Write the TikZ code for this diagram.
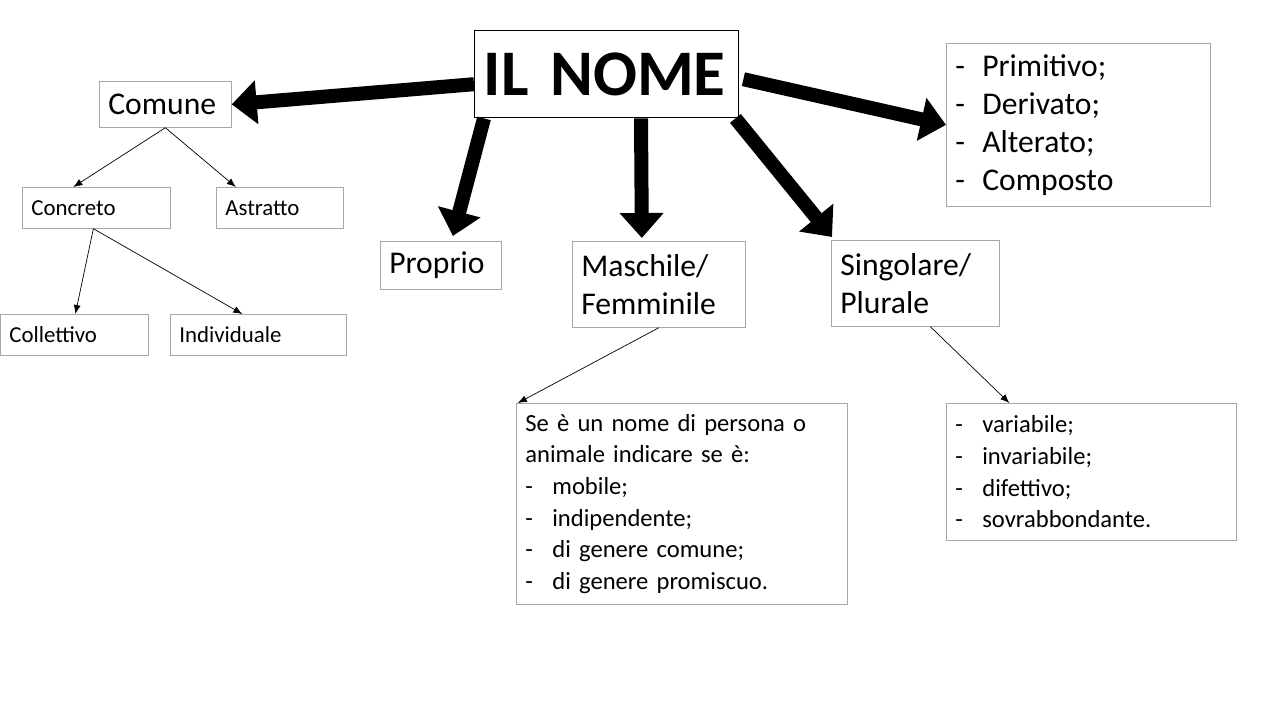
\documentclass[tikz,border=0pt]{standalone}
\usepackage{fontspec}
\setmainfont{Carlito}
\usetikzlibrary{arrows.meta, positioning}
\newcommand{\itm}{\makebox[0.54cm][l]{-}}
\begin{document}
\begin{tikzpicture}[
      box/.style={draw=gray!70, rectangle, anchor=north west, inner xsep=0.18cm, inner ysep=0pt, align=left},
      big/.style={font=\fontsize{18}{21.6}\selectfont},
      small/.style={font=\fontsize{13}{16}\selectfont},
      list/.style={font=\fontsize{14}{18}\selectfont},
      fatarrow/.style={line width=0.28cm, -{Triangle[width=0.85cm,length=0.5cm]}},
      thinarrow/.style={thin, -{Latex[length=1.8mm,width=1.4mm]}}
  ]
      \useasboundingbox (0,0) rectangle (25.6,-14.4);
      % centre
      \node[box, draw=black, thick, text width=4.92cm, minimum height=1.74cm, font=\fontsize{37}{40}\bfseries] (nome) at (9.48,-0.6) {IL NOME};

      % left branch
      \node[box, big, text width=2.28cm, minimum height=0.92cm] (comune) at (1.98,-1.62) {Comune};
      \node[box, small, text width=2.6cm, minimum height=0.82cm] (concreto) at (0.44,-3.74) {Concreto};
      \node[box, small, text width=2.18cm, minimum height=0.82cm] (astratto) at (4.32,-3.74) {Astratto};
      \node[box, small, text width=2.6cm, minimum height=0.82cm] (collettivo) at (0,-6.28) {Collettivo};
      \node[box, small, text width=3.16cm, minimum height=0.82cm] (individuale) at (3.4,-6.28) {Individuale};

      % middle row
      \node[box, big, text width=2.06cm, minimum height=0.96cm] (proprio) at (7.6,-4.82) {Proprio};
      \node[box, big, text width=3.1cm, minimum height=1.72cm] (maschile) at (11.44,-4.82) {Maschile/\\Femminile};
      \node[box, big, text width=3.0cm, minimum height=1.72cm] (singolare) at (16.62,-4.8) {Singolare/\\Plurale};
      \node[box, font=\fontsize{18}{21.6}\selectfont, text width=4.92cm, minimum height=3.26cm] (primitivo) at (18.92,-0.86)
          {\itm Primitivo;\\ \itm Derivato;\\ \itm Alterato;\\ \itm Composto};

      % lower boxes
      \node[box, list, text width=6.26cm, minimum height=4.02cm] (genere) at (10.32,-8.06)
          {Se è un nome di persona o\\ animale indicare se è:\\ \itm mobile;\\ \itm indipendente;\\ \itm di genere comune;\\ \itm di genere promiscuo.};
      \node[box, list, text width=5.44cm, minimum height=2.74cm] (variabile) at (18.92,-8.06)
          {\itm variabile;\\ \itm invariabile;\\ \itm difettivo;\\ \itm sovrabbondante.};

      % thick arrows
      \draw[fatarrow] ([yshift=-0.2cm]nome.west) -- (comune.east);
      \draw[fatarrow] ([xshift=0.2cm]nome.south west) -- ([xshift=0.24cm,yshift=0.1cm]proprio.north);
      \draw[fatarrow] ([xshift=3.34cm]nome.south west) -- ([xshift=-0.34cm,yshift=0.06cm]maschile.north);
      \draw[fatarrow] ([xshift=-0.08cm]nome.south east) -- ([xshift=0.02cm,yshift=0.06cm]singolare.north west);
      \draw[fatarrow] ([xshift=0.08cm,yshift=-0.1cm]nome.east) -- (primitivo.west);

      % thin arrows
      \draw[thinarrow] (comune.south) -- ([xshift=-0.46cm]concreto.north);
      \draw[thinarrow] (comune.south) -- ([xshift=-0.88cm]astratto.north);
      \draw[thinarrow] ([xshift=-0.06cm]concreto.south) -- ([xshift=0.02cm]collettivo.north);
      \draw[thinarrow] ([xshift=-0.06cm]concreto.south) -- ([xshift=-0.32cm]individuale.north);
      \draw[thinarrow] (maschile.south) -- ([xshift=-3.28cm]genere.north);
      \draw[thinarrow] ([xshift=0.3cm]singolare.south) -- ([xshift=-1.64cm]variabile.north);
  \end{tikzpicture}
\end{document}
